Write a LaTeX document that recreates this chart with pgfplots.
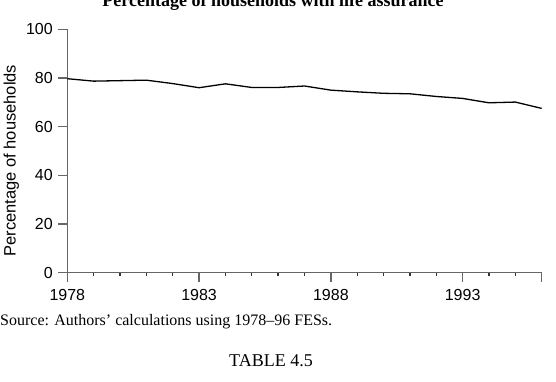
\documentclass[border=0pt]{standalone}
\usepackage{fontspec}
\setmainfont{Liberation Serif}
\setsansfont{Liberation Sans}
\usepackage{pgfplots}
\pgfplotsset{compat=1.18}
\begin{document}
\begin{tikzpicture}[x=1pt,y=1pt]
\useasboundingbox (0,0) rectangle (556,382);
\begin{axis}[
  at={(67.3pt,109.3pt)}, anchor=south west,
  scale only axis, width=474.4pt, height=243.4pt,
  xmin=1978, xmax=1996, ymin=0, ymax=100,
  axis x line*=bottom, axis y line*=left,
  axis line style={-, draw=black!60, line width=1.4pt},
  xtick={1978,1983,1988,1993,1996},
  xticklabels={1978,1983,1988,1993,{}},
  minor xtick={1979,1980,1981,1982,1984,1985,1986,1987,1989,1990,1991,1992,1994,1995},
  ytick={0,20,40,60,80,100},
  tick align=outside, major tick length=9pt, minor tick length=3.5pt,
  major tick style={draw=black!60, line width=1.4pt},
  minor tick style={draw=black!80, line width=1.3pt},
  ticklabel style={font=\fontsize{16}{19}\selectfont\sffamily},
  xticklabel style={yshift=-4pt},
  yticklabel style={xshift=-2pt},
  /pgf/number format/assume math mode=true,
  /pgf/number format/1000 sep={},
  ylabel={Percentage of households},
  ylabel style={font=\fontsize{16.5}{19}\selectfont\sffamily, at={(axis description cs:-0.118,0.46)}, anchor=center},
  clip=false,
]
\addplot[black, line width=1.3pt] coordinates {
(1978,79.7) (1979,78.7) (1980,78.9) (1981,79.1) (1982,77.7) (1983,76.0)
(1984,77.6) (1985,76.1) (1986,76.1) (1987,76.7) (1988,75.0) (1989,74.3)
(1990,73.7) (1991,73.5) (1992,72.4) (1993,71.6) (1994,69.8) (1995,70.1)
(1996,67.5)};
\end{axis}
\node[anchor=base, inner sep=0, font=\fontsize{18}{21}\selectfont\bfseries] at (273,375) {Percentage of households with life assurance};
\node[anchor=base west, inner sep=0, font=\fontsize{16}{19}\selectfont] at (0,56) {Source: Authors’ calculations using 1978--96 FESs.};
\node[anchor=base, inner sep=0, font=\fontsize{18}{21}\selectfont] at (271,15) {TABLE 4.5};
\end{tikzpicture}
\end{document}
